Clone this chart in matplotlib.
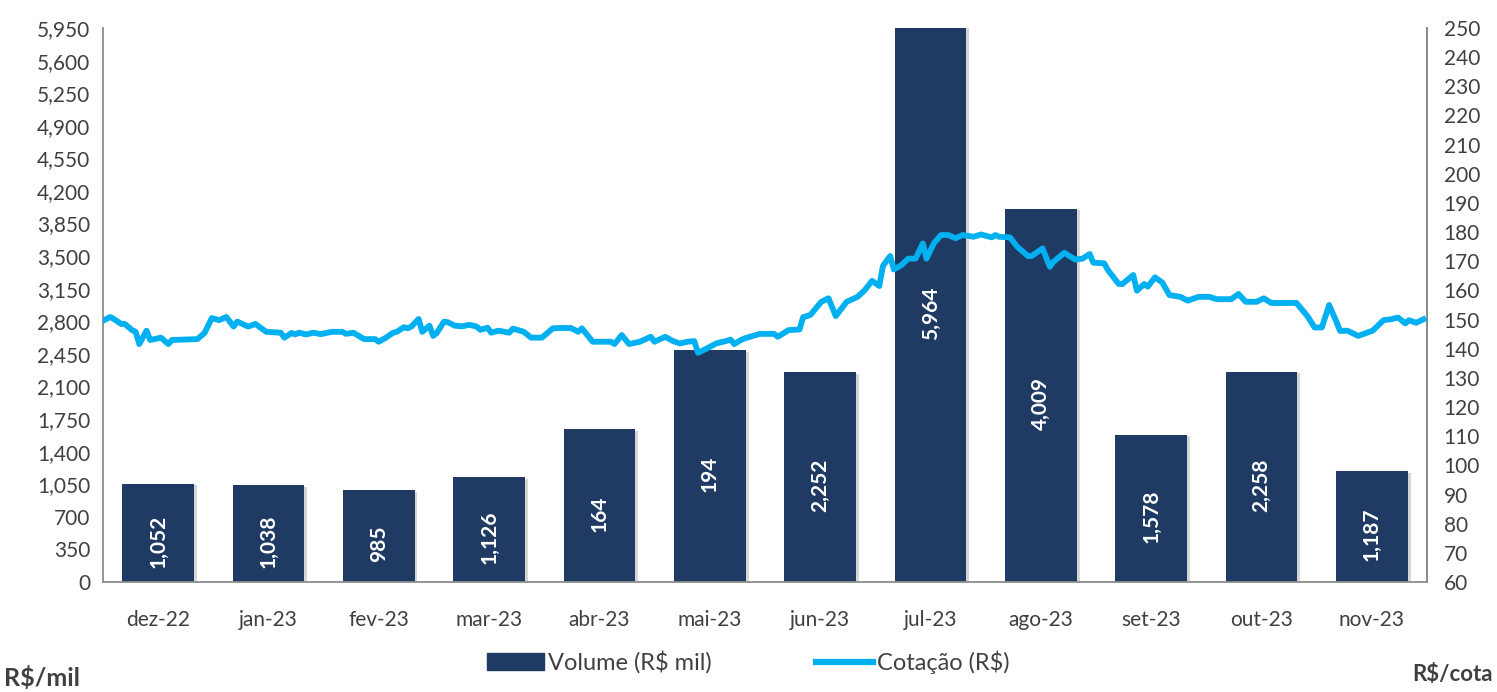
import numpy as np
import matplotlib
matplotlib.use("Agg")
from matplotlib import pyplot as plt
from matplotlib import patheffects as pe
from matplotlib.lines import Line2D
from matplotlib.patches import Patch

# dados mensais
meses = ["dez-22", "jan-23", "fev-23", "mar-23", "abr-23", "mai-23",
         "jun-23", "jul-23", "ago-23", "set-23", "out-23", "nov-23"]
volume = [1052, 1038, 985, 1126, 1640, 2490, 2252, 5964, 4009, 1578, 2258, 1187]
rotulos = ["1,052", "1,038", "985", "1,126", "164", "194",
           "2,252", "5,964", "4,009", "1,578", "2,258", "1,187"]

# cotacao diaria (dia desde 01/12/2022, R$)
dias = [0, 2, 3, 5, 6, 8, 9, 10, 12, 13, 16, 18, 19, 26, 28, 30, 32, 34, 36, 37,
        40, 42, 45, 49, 50, 52, 53, 54, 56, 58, 60, 63, 66, 67, 69, 72, 75, 76, 78, 80,
        81, 83, 84, 85, 87, 88, 90, 91, 92, 94, 95, 97, 99, 101, 103, 104, 106, 107, 109, 112,
        113, 116, 118, 121, 124, 126, 129, 131, 132, 135, 140, 141, 143, 145, 148, 151, 152, 155, 157, 159,
        161, 163, 164, 166, 169, 171, 173, 174, 176, 177, 181, 185, 186, 189, 192, 193, 195, 198, 200, 202,
        205, 208, 210, 212, 214, 215, 217, 218, 220, 222, 224, 226, 227, 229, 231, 233, 235, 237, 240, 242,
        245, 246, 247, 250, 252, 255, 256, 259, 261, 262, 265, 268, 270, 272, 273, 276, 277, 280, 281, 284,
        285, 287, 288, 290, 292, 294, 297, 299, 302, 305, 307, 311, 313, 315, 318, 320, 322, 329, 331, 332,
        334, 336, 338, 340, 341, 343, 346, 348, 350, 353, 355, 357, 359, 360, 362, 364]
cotacao = [149.6, 150.9, 150.2, 148.5, 148.5, 146.4, 145.8, 141.6, 146.2, 143.0, 143.8, 141.6, 143.0, 143.3, 145.4, 150.5, 149.8, 150.9, 147.6, 149.3,
           147.6, 148.5, 145.8, 145.5, 143.8, 145.4, 144.9, 145.5, 144.9, 145.5, 145.0, 145.8, 145.8, 145.1, 145.5, 143.3, 143.3, 142.4, 143.8, 145.5,
           145.8, 147.4, 147.0, 147.6, 150.2, 145.8, 147.9, 144.4, 145.4, 149.3, 149.1, 147.9, 147.7, 148.2, 147.6, 146.5, 147.2, 145.5, 146.2, 145.5,
           146.9, 145.8, 143.8, 143.8, 147.0, 147.1, 147.1, 145.8, 147.0, 142.4, 142.4, 141.6, 144.7, 141.6, 142.4, 144.1, 142.4, 144.1, 142.7, 141.8,
           142.4, 142.6, 138.6, 139.8, 141.8, 142.4, 143.1, 141.6, 143.1, 143.6, 145.1, 145.1, 144.1, 146.4, 146.6, 150.8, 151.6, 156.1, 157.3, 151.2,
           156.1, 157.8, 160.1, 163.3, 161.5, 168.4, 171.8, 167.2, 168.6, 170.9, 170.9, 176.1, 170.9, 176.1, 179.0, 179.0, 177.9, 179.0, 178.4, 179.2,
           178.2, 179.0, 178.4, 178.2, 175.0, 171.8, 171.8, 174.4, 168.1, 169.8, 172.9, 170.6, 170.9, 172.5, 169.5, 169.3, 167.0, 162.2, 162.2, 165.3,
           159.9, 162.2, 161.3, 164.5, 162.7, 158.4, 157.8, 156.5, 157.8, 157.8, 157.0, 157.0, 158.8, 156.1, 156.1, 157.3, 155.7, 155.7, 152.7, 151.2,
           147.3, 147.3, 155.0, 149.3, 146.1, 146.2, 144.4, 145.3, 146.2, 149.8, 150.1, 150.7, 148.7, 149.8, 148.9, 150.1]

plt.rcParams['font.family'] = ['Lato', 'DejaVu Sans']
cor_barra = "#1F3B63"
cor_linha = "#00B0F0"
cor_texto = "#404040"

fig = plt.figure(figsize=(14.97, 6.92), dpi=100)
ax = fig.add_axes([0.0688, 0.159, 0.8845, 0.8005])
x = np.arange(len(meses))
bars = ax.bar(x, volume, width=0.65, color=cor_barra, zorder=2)
for b in bars:
    b.set_path_effects([pe.SimplePatchShadow(offset=(2, -1), shadow_rgbFace="#888888", alpha=0.35), pe.Normal()])

for xi, v, r in zip(x, volume, rotulos):
    ax.annotate(r, (xi, min(v, 5950) / 2), xytext=(0, -8), textcoords="offset pixels",
                rotation=90, ha="center", va="center", color="white",
                fontsize=15, fontweight="bold", zorder=4)

ax.set_xlim(-0.5, 11.5)
ax.set_ylim(0, 5950)
ax.set_yticks(np.arange(0, 5951, 350))
ax.set_yticklabels([f"{v:,}" for v in range(0, 5951, 350)])
ax.set_xticks(x)
ax.set_xticklabels(meses)
ax.tick_params(axis="both", length=0, labelsize=15, colors=cor_texto)
ax.tick_params(axis="y", pad=9)
ax.tick_params(axis="x", pad=20)
for s in ["left", "bottom", "right"]:
    ax.spines[s].set_color("#8C8C8C")
    ax.spines[s].set_linewidth(1.3)
ax.spines["top"].set_visible(False)

ax2 = ax.twinx()
pos = np.array(dias) / 365 * 12 - 0.5
ax2.plot(pos, cotacao, color=cor_linha, lw=4.2, zorder=3, solid_joinstyle="round")
ax2.set_ylim(60, 250)
ax2.set_yticks(np.arange(60, 251, 10))
ax2.tick_params(axis="y", length=0, labelsize=15, colors=cor_texto, pad=12)
for s in ["left", "bottom", "top"]:
    ax2.spines[s].set_visible(False)
ax2.spines["right"].set_color("#8C8C8C")
ax2.spines["right"].set_linewidth(1.3)

handles = [Patch(facecolor=cor_barra, edgecolor=cor_barra),
           Line2D([0], [0], color=cor_linha, lw=4.5)]
fig.legend(handles, ["Volume (R$ mil)", "Cotação (R$)"], loc="center",
           bbox_to_anchor=(0.5, 0.043), ncol=2, frameon=False, fontsize=17,
           labelcolor=cor_texto, handlelength=2.4, handletextpad=0.2, columnspacing=4.4)

fig.text(0.003, 0.003, "R$/mil", fontsize=18, fontweight="bold", color=cor_texto, ha="left", va="bottom")
fig.text(0.997, 0.010, "R$/cota", fontsize=16, fontweight="bold", color=cor_texto, ha="right", va="bottom")

fig.savefig("out.png", dpi=100)
